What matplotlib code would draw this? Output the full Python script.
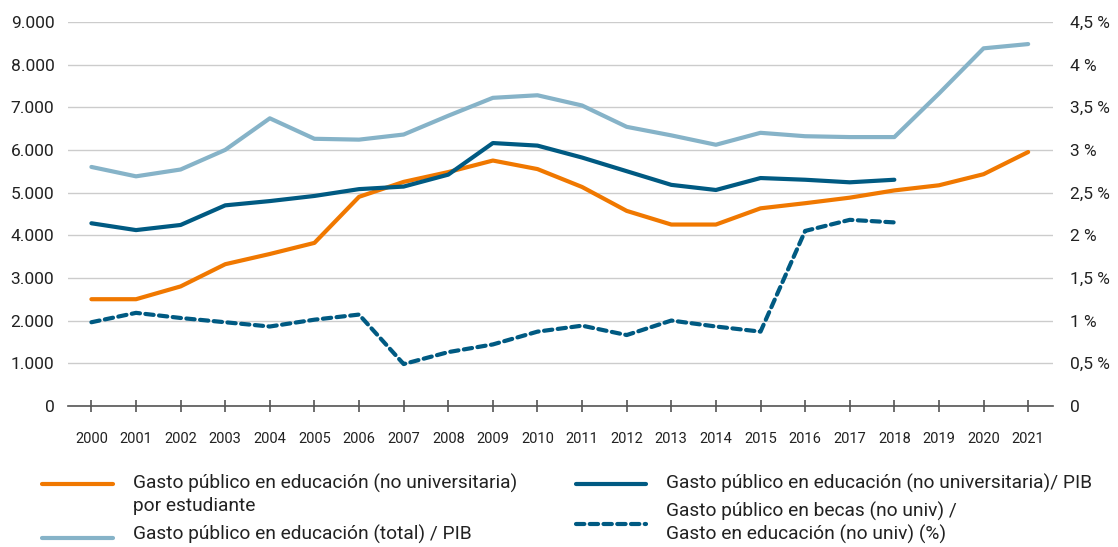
import matplotlib
matplotlib.use("Agg")
import matplotlib.pyplot as plt
from matplotlib.lines import Line2D
from matplotlib.ticker import FuncFormatter, MultipleLocator

plt.rcParams['font.family'] = ['Roboto', 'DejaVu Sans']

# data
years = list(range(2000, 2022))
# euros per student (left axis)
gasto_estudiante = [2500, 2500, 2800, 3320, 3560, 3820, 4900, 5250, 5480, 5750, 5550,
                    5130, 4570, 4250, 4250, 4630, 4750, 4880, 5050, 5170, 5430, 5950]
# % (right axis)
gasto_nouniv_pib = [2.14, 2.06, 2.12, 2.35, 2.40, 2.46, 2.54, 2.57, 2.71, 3.08, 3.05,
                    2.91, 2.75, 2.59, 2.53, 2.67, 2.65, 2.62, 2.65]
gasto_total_pib = [2.80, 2.69, 2.77, 3.00, 3.37, 3.13, 3.12, 3.18, 3.40, 3.61, 3.64,
                   3.52, 3.27, 3.17, 3.06, 3.20, 3.16, 3.15, 3.15, 3.66, 4.19, 4.24]
becas_pct = [0.98, 1.09, 1.03, 0.98, 0.93, 1.01, 1.07, 0.49, 0.63, 0.72, 0.87,
             0.94, 0.83, 1.00, 0.93, 0.87, 2.05, 2.18, 2.15]

orange = '#f07800'
dark_blue = '#005a82'
light_blue = '#86b3c8'

fig = plt.figure(figsize=(11.18, 5.47), dpi=100)
ax = fig.add_axes([0.061, 0.258, 0.881, 0.702])
ax2 = ax.twinx()

ax.set_xlim(1999.48, 2021.56)
ax.set_ylim(0, 9000)
ax2.set_ylim(0, 4.5)

ax.yaxis.set_major_locator(MultipleLocator(1000))
ax2.yaxis.set_major_locator(MultipleLocator(0.5))
ax.yaxis.set_major_formatter(FuncFormatter(lambda v, p: f"{v:,.0f}".replace(',', '.')))

def pct(v, p):
    if v == 0:
        return '0'
    s = f"{v:g}".replace('.', ',')
    return s + ' %'
ax2.yaxis.set_major_formatter(FuncFormatter(pct))

ax.grid(axis='y', color='#cccccc', lw=1)
ax.set_axisbelow(True)
for a in (ax, ax2):
    for s in ('top', 'left', 'right'):
        a.spines[s].set_visible(False)
    a.spines['bottom'].set_visible(False)
ax.spines['bottom'].set_visible(True)
ax.spines['bottom'].set_color('#555555')
ax.spines['bottom'].set_linewidth(1.2)

ax.set_xticks(years)
ax.tick_params(axis='x', direction='inout', length=9, width=1.2, color='#555555',
               labelsize=10.5, pad=14, labelcolor='#222222')
ax.tick_params(axis='y', length=0, labelsize=12.5, pad=10, labelcolor='#222222')
ax2.tick_params(axis='y', length=0, labelsize=12.5, pad=12, labelcolor='#222222')

ax.plot(years, gasto_estudiante, color=orange, lw=3, solid_capstyle='round', zorder=3)
ax2.plot(years, gasto_total_pib, color=light_blue, lw=3, solid_capstyle='round')
ax2.plot(years[:len(gasto_nouniv_pib)], gasto_nouniv_pib, color=dark_blue, lw=3,
         solid_capstyle='round')
ax2.plot(years[:len(becas_pct)], becas_pct, color=dark_blue, lw=3,
         linestyle=(0, (2, 1.3)), dash_capstyle='round')

# legend drawn by hand
W, H = 1118, 547

def handle(x0, x1, y, color, ls='-'):
    fig.add_artist(Line2D([x0 / W, x1 / W], [1 - y / H, 1 - y / H], color=color, lw=3,
                          linestyle=ls, solid_capstyle='round', dash_capstyle='round'))

def label(x, y, txt):
    fig.text(x / W, 1 - y / H, txt, fontsize=13.8, va='center', ha='left', color='#222222')

handle(42, 113, 484, orange)
label(133, 483, 'Gasto público en educación (no universitaria)')
label(133, 506, 'por estudiante')
handle(42, 113, 538, light_blue)
label(133, 534, 'Gasto público en educación (total) / PIB')
handle(576, 646, 484, dark_blue)
label(666, 483, 'Gasto público en educación (no universitaria)/ PIB')
handle(576, 646, 524, dark_blue, (0, (2, 1.3)))
label(666, 511, 'Gasto público en becas (no univ) /')
label(666, 534, 'Gasto en educación (no univ) (%)')

fig.savefig('out.png', dpi=100)
